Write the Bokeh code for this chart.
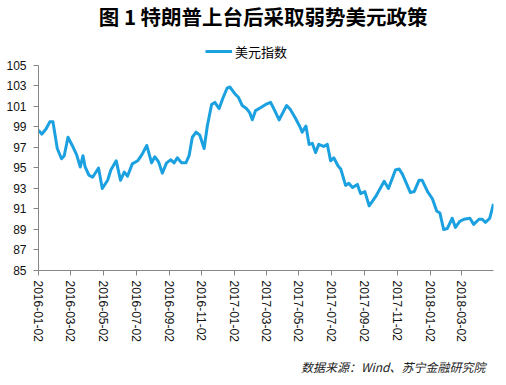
import pandas as pd
from bokeh.plotting import figure
from bokeh.models import (Range1d, FixedTicker, DatetimeTickFormatter, Legend,
                          LegendItem, Label, ColumnDataSource, Title)
from bokeh.embed import file_html
from bokeh.resources import INLINE

# ---------------- data ----------------
start_date = "2016-01-02"
day_offsets = [0, 6, 14, 21, 27, 35, 43, 48, 55, 63,
               71, 78, 83, 87, 94, 101, 112, 119, 129, 135,
               145, 153, 160, 166, 175, 185, 193, 202, 211, 217,
               224, 231, 239, 247, 253, 259, 267, 275, 281, 287,
               294, 301, 309, 315, 323, 329, 337, 344, 352, 357,
               367, 373, 380, 388, 394, 399, 405, 415, 424, 433,
               439, 449, 457, 463, 470, 480, 488, 492, 499, 505,
               511, 517, 523, 532, 539, 545, 551, 559, 564, 573,
               579, 586, 595, 601, 609, 617, 629, 645, 653, 666,
               673, 679, 694, 701, 710, 716, 726, 735, 743, 749,
               756, 763, 772, 778, 786, 794, 805, 812, 822, 828,
               834, 842, 849]
usd_index = [98.7, 98.3, 98.8, 99.5, 99.5, 96.9, 95.9, 96.2, 98.0, 97.2,
             96.3, 95.1, 96.2, 95.1, 94.3, 94.1, 95.0, 93.0, 93.8, 94.8,
             95.7, 93.8, 94.6, 94.2, 95.4, 95.7, 96.3, 97.2, 95.5, 96.1,
             95.6, 94.5, 95.5, 95.8, 95.5, 96.0, 95.5, 95.5, 96.2, 98.0,
             98.5, 98.2, 96.9, 99.1, 101.2, 101.4, 100.8, 101.8, 102.8, 102.9,
             102.2, 101.9, 101.1, 100.8, 100.4, 99.7, 100.6, 100.9, 101.2, 101.4,
             100.8, 99.7, 100.5, 101.1, 100.7, 99.8, 99.0, 98.5, 99.1, 97.3,
             97.4, 96.5, 97.3, 97.1, 97.3, 95.7, 96.0, 95.2, 94.9, 93.3,
             93.5, 93.1, 93.4, 92.5, 92.7, 91.3, 92.2, 93.7, 93.0, 94.8,
             94.9, 94.4, 92.6, 92.7, 93.8, 93.8, 92.7, 92.0, 90.8, 90.6,
             89.0, 89.1, 90.1, 89.2, 89.8, 90.0, 90.1, 89.5, 90.0, 90.0,
             89.7, 90.1, 91.5]
tick_dates = ["2016-01-02", "2016-03-02", "2016-05-02", "2016-07-02",
              "2016-09-02", "2016-11-02", "2017-01-02", "2017-03-02",
              "2017-05-02", "2017-07-02", "2017-09-02", "2017-11-02",
              "2018-01-02", "2018-03-02"]
y_ticks = [85, 87, 89, 91, 93, 95, 97, 99, 101, 103, 105]
title_text = "图 1  特朗普上台后采取弱势美元政策"
series_name = "美元指数"
source_note = "数据来源：Wind、苏宁金融研究院"

# ---------------- figure ----------------
dates = pd.to_datetime(start_date) + pd.to_timedelta(day_offsets, unit="D")
src = ColumnDataSource(dict(date=dates, value=usd_index))

# frame spans the whole top of the canvas so title/legend live inside it;
# the y axis itself is bounded to 85..105
p = figure(width=506, height=385, x_axis_type="datetime",
           output_backend="svg", toolbar_location=None,
           x_range=Range1d(dates[0].to_pydatetime(), dates[-1].to_pydatetime()),
           y_range=Range1d(85, 111.34),
           min_border_left=38, min_border_right=13,
           min_border_top=0, min_border_bottom=115)
p.outline_line_color = None
p.xgrid.visible = False
p.ygrid.visible = False
p.background_fill_color = "white"
p.border_fill_color = "white"

line = p.line("date", "value", source=src, line_color="#1BA0E0",
              line_width=3, line_join="round")

axis_col = "#868686"
lab_font = "Liberation Sans"

xa = p.xaxis[0]
xa.ticker = FixedTicker(ticks=[pd.Timestamp(d).value / 1e6 for d in tick_dates])
fmt = "%Y-%m-%d"
xa.formatter = DatetimeTickFormatter(microseconds=fmt, milliseconds=fmt, seconds=fmt,
                                     minsec=fmt, minutes=fmt, hourmin=fmt, hours=fmt,
                                     days=fmt, months=fmt, years=fmt)
xa.major_label_orientation = "vertical"
xa.major_tick_out = 5
xa.major_tick_in = 0
xa.minor_tick_out = 0
xa.minor_tick_in = 0
xa.axis_line_color = axis_col
xa.major_tick_line_color = axis_col
xa.major_label_standoff = 5
xa.major_label_text_font = lab_font
xa.major_label_text_font_size = "12px"
xa.major_label_text_color = "#111111"

ya = p.yaxis[0]
ya.ticker = FixedTicker(ticks=y_ticks)
ya.bounds = (y_ticks[0], y_ticks[-1])
ya.major_tick_out = 5
ya.major_tick_in = 0
ya.minor_tick_out = 0
ya.minor_tick_in = 0
ya.axis_line_color = axis_col
ya.major_tick_line_color = axis_col
ya.major_label_standoff = 7
ya.major_label_text_font = lab_font
ya.major_label_text_font_size = "12px"
ya.major_label_text_color = "#111111"

# title (inside the tall frame, above the data area)
p.add_layout(Label(x=227, y=255, x_units="screen", y_units="screen",
                   text=title_text, text_align="center", text_baseline="middle",
                   text_font="Noto Sans CJK SC", text_font_size="20.5px",
                   text_font_style="bold", text_color="#000000"))

# legend
legend = Legend(items=[LegendItem(label=series_name, renderers=[line])],
                location=(167, 209.5), orientation="horizontal",
                padding=0, margin=0, border_line_color=None,
                background_fill_alpha=0, glyph_width=27, glyph_height=16,
                label_height=16, label_standoff=3,
                label_text_font="Noto Sans CJK SC", label_text_font_size="13px",
                label_text_color="#000000")
p.add_layout(legend)

# source note below the axis
p.add_layout(Title(text=source_note, align="right", offset=8, standoff=22,
                   text_font="Noto Sans CJK SC", text_font_size="12px",
                   text_font_style="italic", text_color="#222222"), "below")

open("out.html", "w").write(file_html(p, INLINE))
